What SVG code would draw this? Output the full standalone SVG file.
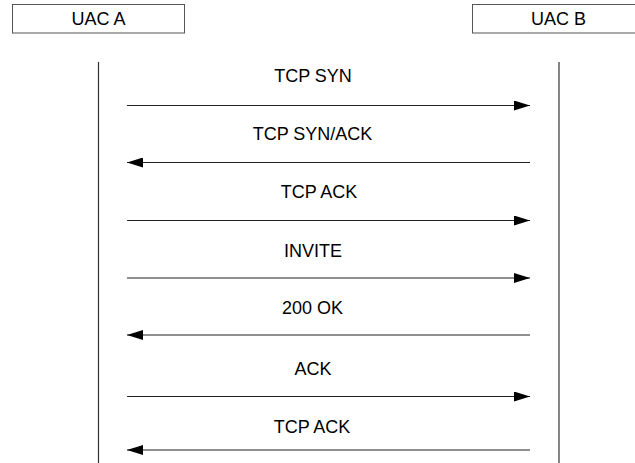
<svg xmlns="http://www.w3.org/2000/svg" width="635" height="463" viewBox="0 0 635 463">
  <style>
    .box { fill: #ffffff; stroke: #555555; stroke-width: 1; }
    .life { stroke: #333333; stroke-width: 1.2; fill: none; }
    .msg { stroke: #222222; stroke-width: 1.2; fill: none; }
    .head { fill: #000000; stroke: none; }
    text { font-family: "Liberation Sans", Arial, Helvetica, sans-serif; font-size: 18px; fill: #000000; }
  </style>
  <defs>
    <marker id="arrowEnd" markerWidth="16" markerHeight="10" refX="16" refY="5" orient="auto" markerUnits="userSpaceOnUse">
      <path class="head" d="M0,0 L16,5 L0,10 Z"/>
    </marker>
  </defs>

  <!-- Participants -->
  <g id="uac-a">
    <rect class="box" x="12.5" y="4.5" width="172" height="28.5"/>
    <text x="98.5" y="24.7" text-anchor="middle">UAC A</text>
    <line class="life" x1="98.5" y1="62" x2="98.5" y2="463"/>
  </g>
  <g id="uac-b">
    <rect class="box" x="472.5" y="4.5" width="172" height="28.5"/>
    <text x="558.5" y="24.7" text-anchor="middle">UAC B</text>
    <line class="life" x1="559" y1="62" x2="559" y2="463"/>
  </g>

  <!-- Messages -->
  <g id="connectors">
    <line class="msg" x1="127" y1="105.5" x2="530" y2="105.5" marker-end="url(#arrowEnd)"/>
    <line class="msg" x1="530" y1="162.5" x2="127" y2="162.5" marker-end="url(#arrowEnd)"/>
    <line class="msg" x1="127" y1="220.5" x2="530" y2="220.5" marker-end="url(#arrowEnd)"/>
    <line class="msg" x1="127" y1="278" x2="530" y2="278" marker-end="url(#arrowEnd)"/>
    <line class="msg" x1="530" y1="335" x2="127" y2="335" marker-end="url(#arrowEnd)"/>
    <line class="msg" x1="127" y1="396.5" x2="530" y2="396.5" marker-end="url(#arrowEnd)"/>
    <line class="msg" x1="530" y1="450" x2="127" y2="450" marker-end="url(#arrowEnd)"/>
  </g>

  <g id="labels">
    <text x="313" y="82.3" text-anchor="middle">TCP SYN</text>
    <text x="312.5" y="140" text-anchor="middle">TCP SYN/ACK</text>
    <text x="319" y="198.3" text-anchor="middle">TCP ACK</text>
    <text x="313" y="256.5" text-anchor="middle">INVITE</text>
    <text x="312.5" y="313.5" text-anchor="middle">200 OK</text>
    <text x="313" y="375" text-anchor="middle">ACK</text>
    <text x="312" y="433.3" text-anchor="middle">TCP ACK</text>
  </g>
</svg>
